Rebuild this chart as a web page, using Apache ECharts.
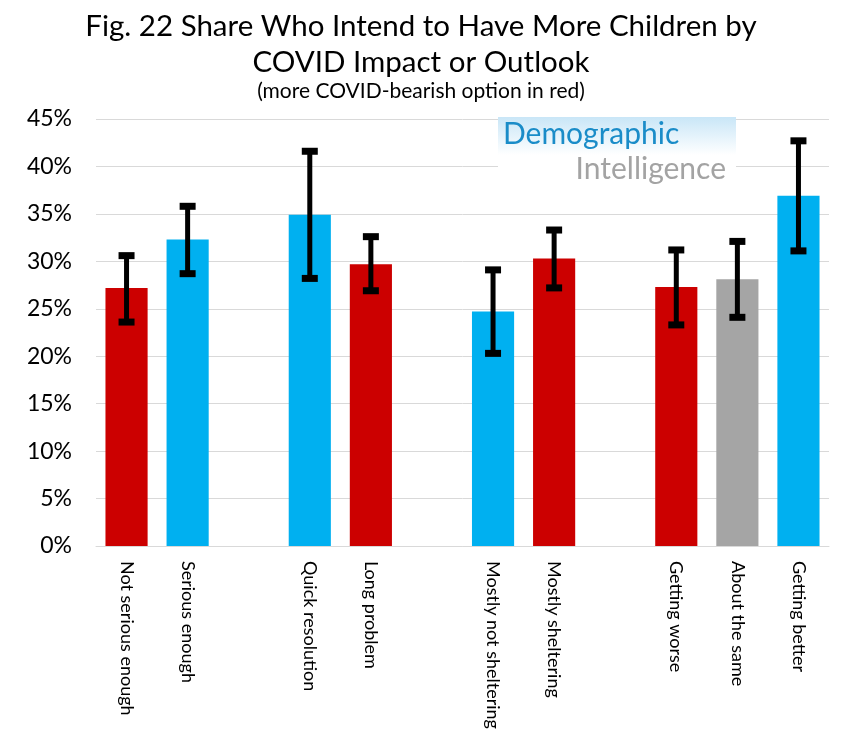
<!DOCTYPE html>
<html><head><meta charset="utf-8">
<script src="https://cdn.jsdelivr.net/npm/echarts@6/dist/echarts.min.js"></script>
<style>html,body{margin:0;padding:0;background:#fff}#c{width:865px;height:741px}</style>
</head><body><div id="c"></div>
<script>
// Categories ('' = spacer slot between groups)
const categories = ['Not serious enough','Serious enough','','Quick resolution','Long problem','','Mostly not sheltering','Mostly sheltering','','Getting worse','About the same','Getting better'];
const values    = [27.2, 32.3, null, 34.9, 29.7, null, 24.7, 30.3, null, 27.3, 28.1, 36.9];
const errLow    = [23.6, 28.7, null, 28.2, 26.9, null, 20.3, 27.2, null, 23.3, 24.1, 31.1];
const errHigh   = [30.6, 35.8, null, 41.6, 32.6, null, 29.1, 33.3, null, 31.2, 32.1, 42.7];
const outlook   = ['bearish','bullish',null,'bullish','bearish',null,'bullish','bearish',null,'bearish','neutral','bullish'];
const yTicks = [0,5,10,15,20,25,30,35,40,45];

const palette = {bearish:'#CC0000', bullish:'#00B0F0', neutral:'#A5A5A5'};
const FONT = 'Lato, "Open Sans", sans-serif';

const chart = echarts.init(document.getElementById('c'), null, {renderer:'canvas'});
const barData = values.map((v,i)=> v==null ? '-' : {value:v, itemStyle:{color:palette[outlook[i]]}});
const errData = values.map((v,i)=> v==null ? ['-','-','-'] : [i, errLow[i], errHigh[i]]);

chart.setOption({
  animation:false,
  grid:{left:96, right:36, top:119, bottom:195},
  graphic:[
    {type:'text', x:421, y:11, style:{text:'Fig. 22 Share Who Intend to Have More Children by', font:'29.5px '+FONT, fill:'#000', textAlign:'center'}},
    {type:'text', x:421, y:47, style:{text:'COVID Impact or Outlook', font:'29.5px '+FONT, fill:'#000', textAlign:'center'}},
    {type:'text', x:421, y:81, style:{text:'(more COVID-bearish option in red)', font:'21px '+FONT, fill:'#000', textAlign:'center'}},
    {type:'rect', shape:{x:498, y:117, width:238, height:38}, style:{fill:new echarts.graphic.LinearGradient(0,0,0,1,[{offset:0,color:'#c9e6f7'},{offset:1,color:'#ffffff'}])}, z:5},
    {type:'rect', shape:{x:498, y:155, width:238, height:34}, style:{fill:'#ffffff'}, z:5},
    {type:'text', x:503, y:119, z:6, style:{text:'Demographic', font:'30px '+FONT, fill:'#1a8cc8'}},
    {type:'text', x:726, y:154, z:6, style:{text:'Intelligence', font:'30px '+FONT, fill:'#a3a3a3', textAlign:'right'}}
  ],
  xAxis:{
    type:'category', data:categories,
    axisLine:{show:true, lineStyle:{color:'#d9d9d9', width:1}},
    axisTick:{show:false},
    axisLabel:{interval:0, rotate:-90, margin:15, fontSize:18, color:'#000', fontFamily:FONT}
  },
  yAxis:{
    type:'value', min:0, max:45, interval:5,
    axisLine:{show:false}, axisTick:{show:false},
    splitLine:{lineStyle:{color:'#d9d9d9', width:1}},
    axisLabel:{formatter:v=>yTicks.includes(v)? v+'%' : '', fontSize:23, color:'#000', fontFamily:FONT, margin:24}
  },
  series:[
    {type:'bar', data:barData, barWidth:'69%', z:2},
    {type:'custom', z:3, data:errData,
     renderItem:function(params, api){
       const x = api.value(0);
       if (isNaN(api.value(1))) return null;
       const lo = api.coord([x, api.value(1)]);
       const hi = api.coord([x, api.value(2)]);
       const cap = 8;
       return {type:'group', children:[
         {type:'line', shape:{x1:lo[0], y1:lo[1], x2:hi[0], y2:hi[1]}, style:{stroke:'#000', lineWidth:5}},
         {type:'line', shape:{x1:hi[0]-cap, y1:hi[1], x2:hi[0]+cap, y2:hi[1]}, style:{stroke:'#000', lineWidth:7}},
         {type:'line', shape:{x1:lo[0]-cap, y1:lo[1], x2:lo[0]+cap, y2:lo[1]}, style:{stroke:'#000', lineWidth:7}}
       ]};
     },
     encode:{x:0, y:[1,2]}
    }
  ]
});
</script></body></html>
